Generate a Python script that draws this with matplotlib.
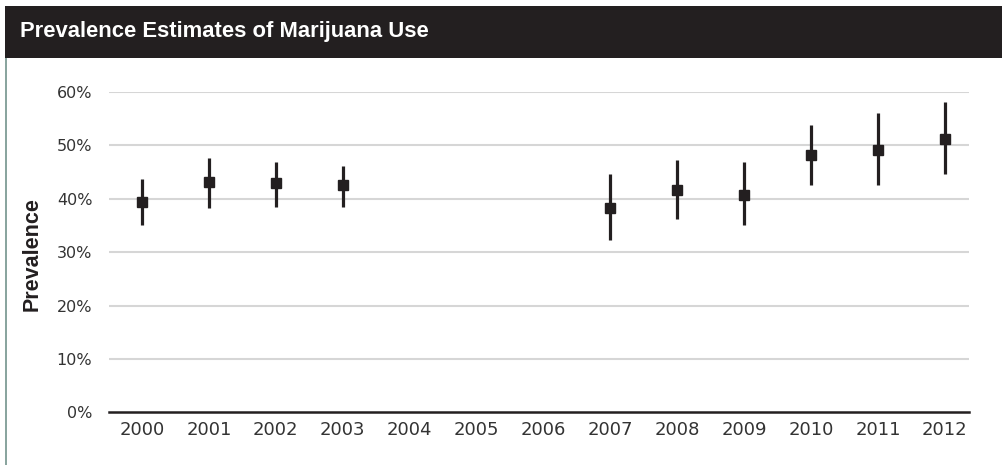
import matplotlib
matplotlib.use("Agg")
import matplotlib.pyplot as plt
import matplotlib.patches as patches
from matplotlib.ticker import FuncFormatter

# Survey years with an estimate (2004-2006 have no data)
years = [2000, 2001, 2002, 2003, 2007, 2008, 2009, 2010, 2011, 2012]
prevalence = [39.4, 43.1, 42.9, 42.6, 38.3, 41.7, 40.7, 48.2, 49.1, 51.2]
ci_low = [35.0, 38.2, 38.4, 38.4, 32.2, 36.2, 35.0, 42.5, 42.6, 44.6]
ci_high = [43.7, 47.7, 46.9, 46.1, 44.6, 47.3, 46.8, 53.9, 56.0, 58.1]
tick_years = list(range(2000, 2013))
y_ticks = [0, 10, 20, 30, 40, 50, 60]

INK = "#231f20"
W, H = 1003, 465

fig = plt.figure(figsize=(W / 100, H / 100), dpi=100)

# header bar + left rule, placed in pixel terms
fig.patches.append(patches.Rectangle((5 / W, 1 - 58 / H), 998 / W, 52 / H,
                                     transform=fig.transFigure, facecolor=INK,
                                     edgecolor="none"))
fig.patches.append(patches.Rectangle((5 / W, 0), 2 / W, 1 - 58 / H,
                                     transform=fig.transFigure, facecolor="#8aa59f",
                                     edgecolor="none"))
fig.text(20 / W, 1 - 32 / H, "Prevalence Estimates of Marijuana Use", color="white",
         fontsize=15.8, fontweight="bold", family="Liberation Sans", va="center",
         ha="left")

# axes: x 109..969, y 92..412 (pixels from top)
ax = fig.add_axes([109 / W, 1 - 412.3 / H, 860 / W, 320.3 / H])
ax.set_xlim(1999.507, 2012.36)
ax.set_ylim(0, 60)

for v in y_ticks[1:]:
    ax.axhline(v, color="#d6d6d6", lw=1.5, zorder=0)

err = [[p - lo for p, lo in zip(prevalence, ci_low)],
       [hi - p for p, hi in zip(prevalence, ci_high)]]
ax.errorbar(years, prevalence, yerr=err, fmt="s", color=INK, ms=7.5,
            elinewidth=2.3, capsize=0, zorder=3)

for s in ["top", "right", "left"]:
    ax.spines[s].set_visible(False)
ax.spines["bottom"].set_color(INK)
ax.spines["bottom"].set_linewidth(1.8)

ax.set_xticks(tick_years)
ax.set_xticklabels([str(y) for y in tick_years], fontsize=13, color="#333333")
ax.set_yticks(y_ticks)
ax.yaxis.set_major_formatter(FuncFormatter(lambda v, _: f"{v:.0f}%"))
ax.tick_params(axis="y", length=0, pad=12, labelsize=11.5, labelcolor="#333333")
ax.tick_params(axis="x", length=0, pad=6)

fig.text(32 / W, 1 - 254 / H, "Prevalence", rotation=90, fontsize=15.5,
         fontweight="bold", family="Liberation Sans", color=INK,
         ha="center", va="center")

fig.savefig("out.png", dpi=100, facecolor="white")
